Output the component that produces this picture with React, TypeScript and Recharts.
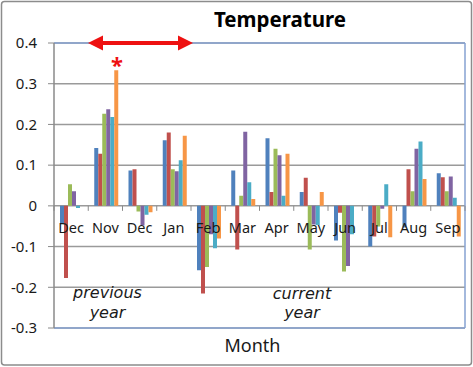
import React from "react";
import { BarChart, Bar, XAxis, YAxis, CartesianGrid } from "recharts";

const months = ["Dec", "Nov", "Dec", "Jan", "Feb", "Mar", "Apr", "May", "Jun", "Jul", "Aug", "Sep"];
const seriesBlue = [-0.044, 0.142, 0.087, 0.161, -0.158, 0.087, 0.166, 0.034, -0.085, -0.1, -0.053, 0.08];
const seriesRed = [-0.177, 0.128, 0.09, 0.18, -0.215, -0.107, 0.034, 0.069, -0.017, -0.075, 0.09, 0.07];
const seriesGreen = [0.053, 0.226, -0.014, 0.09, -0.15, 0.025, 0.14, -0.107, -0.161, -0.051, 0.036, 0.036];
const seriesPurple = [0.036, 0.237, -0.048, 0.085, -0.07, 0.182, 0.124, -0.046, -0.148, -0.007, 0.14, 0.072];
const seriesTeal = [-0.005, 0.218, -0.022, 0.112, -0.104, 0.058, 0.025, -0.047, -0.07, 0.053, 0.158, 0.02];
const seriesOrange = [0, 0.333, -0.016, 0.172, -0.08, 0.017, 0.128, 0.034, 0, -0.077, 0.066, -0.075];
const yTicks = [-0.3, -0.2, -0.1, 0, 0.1, 0.2, 0.3, 0.4];

const data = months.map((m, i) => ({
  month: m,
  key: `${m}-${i}`,
  s1: seriesBlue[i],
  s2: seriesRed[i],
  s3: seriesGreen[i],
  s4: seriesPurple[i],
  s5: seriesTeal[i],
  s6: seriesOrange[i],
}));

const W = 473;
const H = 367;
const MARGIN = { top: 42, right: 7, bottom: 38, left: 0 };
const YW = 54;
const Y_MIN = -0.3;
const Y_MAX = 0.4;
const PLOT_TOP = MARGIN.top + 1;
const PLOT_H = H - MARGIN.top - MARGIN.bottom - 2;
const PLOT_W = W - MARGIN.left - MARGIN.right - YW - 1;
const ZERO_Y = PLOT_TOP + (PLOT_H * (Y_MAX - 0)) / (Y_MAX - Y_MIN);
const BAND = PLOT_W / months.length;
const FONT = "'Noto Sans', 'DejaVu Sans', sans-serif";
const NOTE_FONT = "'DejaVu Sans', sans-serif";

const CategoryTick = (props: any) => {
  const { x, index } = props;
  const label = months[index] ?? "";
  return (
    <g>
      <line x1={x - BAND / 2} x2={x - BAND / 2} y1={ZERO_Y} y2={ZERO_Y + 5} stroke="#8a8a8a" strokeWidth={1} />
      {index === months.length - 1 && (
        <line x1={x + BAND / 2} x2={x + BAND / 2} y1={ZERO_Y} y2={ZERO_Y + 5} stroke="#8a8a8a" strokeWidth={1} />
      )}
      <text x={x} y={ZERO_Y + 27} textAnchor="middle" fontSize={14.5} fill="#1a1a1a" fontFamily={FONT}>
        {label}
      </text>
    </g>
  );
};

export default function App() {
  return (
    <div style={{ position: "absolute", left: 0, top: 0, width: W, height: H, background: "#fff" }}>
      <BarChart
        width={W}
        height={H}
        data={data}
        margin={MARGIN}
        barCategoryGap={6}
        barGap={0}
        style={{ fontFamily: FONT }}
      >
        <CartesianGrid vertical={false} stroke="#9a9a9a" strokeWidth={1.5} />
        <XAxis
          dataKey="key"
          height={1}
          axisLine={{ stroke: "#86a2d2", strokeWidth: 1.5 }}
          tickLine={false}
          interval={0}
          tick={(p: any) => <CategoryTick {...p} />}
        />
        <XAxis
          xAxisId="top"
          dataKey="key"
          orientation="top"
          height={1}
          axisLine={{ stroke: "#86a2d2", strokeWidth: 1.5 }}
          tickLine={false}
          tick={false}
        />
        <YAxis
          width={YW}
          domain={[Y_MIN, Y_MAX]}
          ticks={yTicks}
          allowDataOverflow
          tickFormatter={(v: number) => String(Math.round(v * 10) / 10)}
          axisLine={{ stroke: "#8a8a8a", strokeWidth: 1.5 }}
          tickLine={{ stroke: "#8a8a8a" }}
          tickSize={6}
          tickMargin={11}
          tick={{ fontSize: 15, fill: "#1a1a1a", fontFamily: FONT }}
        />
        <YAxis
          yAxisId="right"
          orientation="right"
          width={1}
          domain={[Y_MIN, Y_MAX]}
          ticks={yTicks}
          axisLine={{ stroke: "#86a2d2", strokeWidth: 1.5 }}
          tickLine={false}
          tick={false}
        />
        <Bar dataKey="s1" fill="#4F81BD" isAnimationActive={false} />
        <Bar dataKey="s2" fill="#C0504D" isAnimationActive={false} />
        <Bar dataKey="s3" fill="#9BBB59" isAnimationActive={false} />
        <Bar dataKey="s4" fill="#8064A2" isAnimationActive={false} />
        <Bar dataKey="s5" fill="#4BACC6" isAnimationActive={false} />
        <Bar dataKey="s6" fill="#F79646" isAnimationActive={false} />
      </BarChart>
      <svg
        width={W}
        height={H}
        style={{ position: "absolute", left: 0, top: 0, pointerEvents: "none" }}
      >
        <rect x={1.5} y={1.5} width={470} height={363.5} rx={3} fill="none" stroke="#8c8c8c" strokeWidth={1.5} />
        <text x={280} y={27} textAnchor="middle" fontSize={20.5} fontWeight="bold" fill="#000" fontFamily={FONT}>
          Temperature
        </text>
        <line x1={100} x2={181} y1={43} y2={43} stroke="#ee1111" strokeWidth={4} />
        <polygon points="88,43 103,35.5 103,50.5" fill="#ee1111" />
        <polygon points="193,43 178,35.5 178,50.5" fill="#ee1111" />
        <text x={117} y={73} textAnchor="middle" fontSize={22} fontWeight="bold" fill="#ee1111" fontFamily={FONT}>
          *
        </text>
        <text x={107.5} y={298} textAnchor="middle" fontSize={16} fontStyle="italic" fill="#1a1a1a" fontFamily={NOTE_FONT}>
          previous
        </text>
        <text x={107.5} y={318} textAnchor="middle" fontSize={16} fontStyle="italic" fill="#1a1a1a" fontFamily={NOTE_FONT}>
          year
        </text>
        <text x={302} y={299} textAnchor="middle" fontSize={16} fontStyle="italic" fill="#1a1a1a" fontFamily={NOTE_FONT}>
          current
        </text>
        <text x={302} y={318} textAnchor="middle" fontSize={16} fontStyle="italic" fill="#1a1a1a" fontFamily={NOTE_FONT}>
          year
        </text>
        <text x={252.5} y={352} textAnchor="middle" fontSize={18} fill="#1a1a1a" fontFamily={FONT}>
          Month
        </text>
      </svg>
    </div>
  );
}
